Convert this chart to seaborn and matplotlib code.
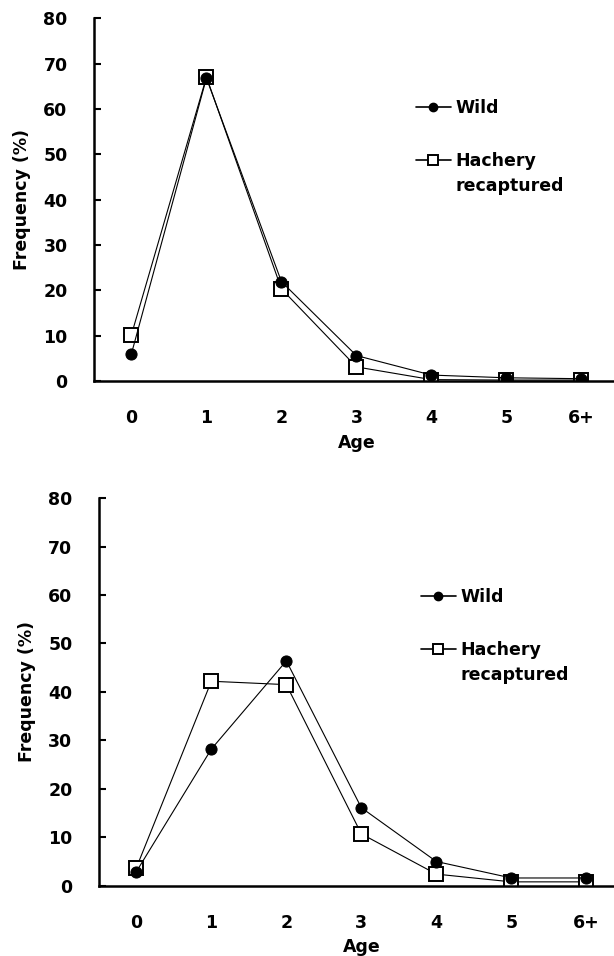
import pandas as pd
import matplotlib.pyplot as plt
import seaborn as sns
from matplotlib.lines import Line2D
from matplotlib.transforms import offset_copy

# Age classes
ages = ['0', '1', '2', '3', '4', '5', '6+']

# Upper panel
wild_top = [6.0, 66.8, 21.9, 5.6, 1.3, 0.7, 0.5]
hatch_top = [10.2, 67.0, 20.3, 3.1, 0.3, 0.2, 0.2]

# Lower panel
wild_bot = [2.9, 28.2, 46.4, 16.1, 5.0, 1.6, 1.6]
hatch_bot = [3.7, 42.2, 41.5, 10.7, 2.4, 0.8, 0.8]

sns.set_style('white')
plt.rcParams['font.family'] = ['DejaVu Sans']
plt.rcParams['font.weight'] = 'bold'
for key in ['text.color', 'axes.labelcolor', 'xtick.color', 'ytick.color']:
    plt.rcParams[key] = 'black'

FS = 12.5

fig = plt.figure(figsize=(6.14, 9.56), dpi=100)
ax1 = fig.add_axes([0.153, 0.6015, 0.855, 0.3795])
ax2 = fig.add_axes([0.161, 0.0735, 0.855, 0.4055])


def draw_panel(ax, wild, hatch, leg_anchor):
    df = pd.DataFrame({'Age': ages, 'Wild': wild, 'Hachery': hatch})
    df['pos'] = range(len(ages))
    sns.lineplot(data=df, x='pos', y='Wild', ax=ax, color='black', lw=0.8,
                 marker='o', markersize=8, mfc='black', mec='black', zorder=3)
    sns.lineplot(data=df, x='pos', y='Hachery', ax=ax, color='black', lw=0.8,
                 marker='s', markersize=9.5, mfc='white', mec='black', mew=1.4, zorder=2)

    ax.set_xlim(-0.5, 6.5)
    ax.set_ylim(0, 80)
    ax.set_yticks(range(0, 81, 10))
    ax.set_xticks(range(len(ages)))
    ax.set_xticklabels(ages)
    ax.set_xticks([i + 0.5 for i in range(len(ages))], minor=True)
    ax.tick_params(axis='x', which='major', length=0, pad=20, labelsize=FS)
    ax.tick_params(axis='x', which='minor', direction='in', length=5, width=1.5)
    ax.tick_params(axis='y', direction='in', length=5, width=1.5, pad=19, labelsize=FS, left=True)
    for lab in ax.get_xticklabels() + ax.get_yticklabels():
        lab.set_fontweight('bold')

    for side in ['top', 'right']:
        ax.spines[side].set_visible(False)
    for side in ['left', 'bottom']:
        ax.spines[side].set_linewidth(1.8)
        ax.spines[side].set_color('black')

    ax.set_xlabel('Age', fontsize=FS, fontweight='bold', labelpad=5)
    ax.set_ylabel('Frequency (%)', fontsize=FS, fontweight='bold', labelpad=9)

    handles = [
        Line2D([], [], color='black', lw=1.2, marker='o', markersize=6, mfc='black'),
        Line2D([], [], color='black', lw=1.2, marker='s', markersize=7, mfc='white', mew=1.4),
    ]
    leg = ax.legend(handles, ['Wild', 'Hachery'], loc='upper left',
                    bbox_to_anchor=leg_anchor, frameon=False, handlelength=2.0,
                    handletextpad=0.3, labelspacing=2.0, borderaxespad=0,
                    prop={'size': FS, 'weight': 'bold'})
    return leg


legs = [draw_panel(ax1, wild_top, hatch_top, (0.60, 0.795)),
        draw_panel(ax2, wild_bot, hatch_bot, (0.60, 0.785))]

# second line of the hatchery label, placed right under "Hachery"
fig.canvas.draw()
inv = fig.transFigure.inverted()
for leg in legs:
    bb = leg.get_texts()[1].get_window_extent()
    x0, y0 = inv.transform((bb.x0, bb.y0))
    tr = offset_copy(fig.transFigure, fig=fig, x=0, y=-5, units='points')
    fig.text(x0, y0, 'recaptured', transform=tr, fontsize=FS, fontweight='bold',
             ha='left', va='top')

plt.savefig('out.png', dpi=100)
